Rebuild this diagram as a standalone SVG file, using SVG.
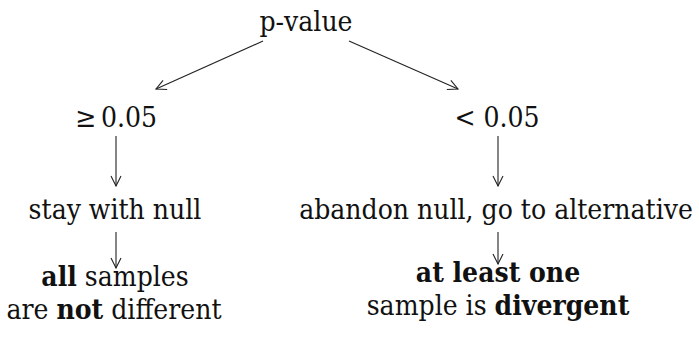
<svg xmlns="http://www.w3.org/2000/svg" width="699" height="339" viewBox="0 0 699 339">
<style>
text{font-family:"DejaVu Serif Condensed","DejaVu Serif",serif;font-size:28px;fill:#111;text-anchor:middle}
.b{font-weight:bold}
line{stroke:#222;stroke-width:1.1}
</style>
<defs>
<marker id="ah" viewBox="0 0 12 12" refX="11" refY="6" markerWidth="12" markerHeight="12" markerUnits="userSpaceOnUse" orient="auto">
<path d="M1,1 L11,6 L1,11" fill="none" stroke="#222" stroke-width="1.1"/>
</marker>
</defs>
<rect width="699" height="339" fill="#fff"/>
<g id="connectors">
<line x1="263" y1="41" x2="156" y2="89" marker-end="url(#ah)"/>
<line x1="349" y1="41" x2="458" y2="89" marker-end="url(#ah)"/>
<line x1="116" y1="136" x2="116" y2="186" marker-end="url(#ah)"/>
<line x1="498" y1="136" x2="498" y2="186" marker-end="url(#ah)"/>
<line x1="116" y1="232" x2="116" y2="268" marker-end="url(#ah)"/>
<line x1="498" y1="232" x2="498" y2="264" marker-end="url(#ah)"/>
</g>
<g id="pvalue"><text x="306" y="31">p-value</text></g>
<g id="ge"><text x="75" y="127" style="text-anchor:start">≥</text><text x="157" y="127" style="text-anchor:end">0.05</text></g>
<g id="lt"><text x="497" y="127">&lt; 0.05</text></g>
<g id="stay"><text x="115" y="219">stay with null</text></g>
<g id="abandon"><text x="496" y="219">abandon null, go to alternative</text></g>
<g id="all"><text x="115" y="286"><tspan class="b">all</tspan> samples</text><text x="114" y="319">are <tspan class="b">not</tspan> different</text></g>
<g id="atleast"><text x="498" y="282" class="b">at least one</text><text x="498" y="315">sample is <tspan class="b">divergent</tspan></text></g>
</svg>
